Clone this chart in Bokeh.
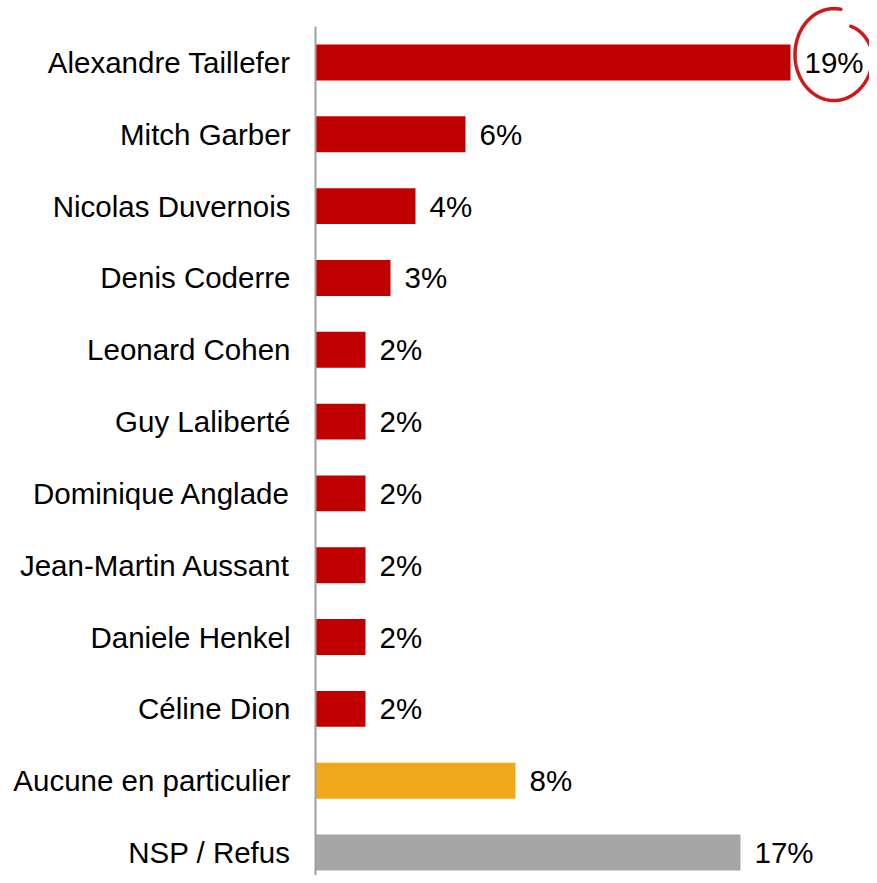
import numpy as np
from bokeh.plotting import figure
from bokeh.models import ColumnDataSource, Range1d, FixedTicker
from bokeh.core.properties import value
from bokeh.embed import file_html
from bokeh.resources import INLINE

names = ["Alexandre Taillefer", "Mitch Garber", "Nicolas Duvernois", "Denis Coderre",
         "Leonard Cohen", "Guy Laliberté", "Dominique Anglade", "Jean-Martin Aussant",
         "Daniele Henkel", "Céline Dion", "Aucune en particulier", "NSP / Refus"]
values = [19, 6, 4, 3, 2, 2, 2, 2, 2, 2, 8, 17]
colors = ["#C00000"] * 10 + ["#F0A91B", "#A6A6A6"]
labels = [f"{v}%" for v in values]

n = len(names)
ypos = [n - 1 - i for i in range(n)]

src = ColumnDataSource(dict(y=ypos, v=values, c=colors, lab=labels, name=names))

FONT = "Liberation Sans"

p = figure(width=869, height=875, output_backend="svg", toolbar_location=None,
           x_range=Range1d(0, 22.16), y_range=Range1d(-0.32, n - 1 + 0.863),
           min_border_left=315, min_border_top=0, min_border_bottom=0, min_border_right=0)
p.outline_line_color = None
p.xgrid.visible = False
p.ygrid.visible = False
p.xaxis.visible = False

p.hbar(y="y", right="v", left=0, height=0.5, color="c", line_color=None, source=src)

ax = p.yaxis[0]
ax.ticker = FixedTicker(ticks=ypos)
ax.bounds = (-0.32, n - 0.5)
ax.major_label_overrides = {y: nm for y, nm in zip(ypos, names)}
ax.major_tick_line_color = None
ax.minor_tick_line_color = None
ax.major_tick_out = 0
ax.major_tick_in = 0
ax.major_label_standoff = 25
ax.major_label_text_font = FONT
ax.major_label_text_font_size = "29.5px"
ax.major_label_text_color = "#000000"
ax.axis_line_color = "#A0A0A0"
ax.axis_line_width = 2

p.text(x="v", y="y", text="lab", source=src, x_offset=14, text_baseline="middle",
       text_align="left", text_font=value(FONT), text_font_size="29.5px", text_color="#000000")

# hand-drawn style ellipse around the largest value (built around that bar's end)
top_i = values.index(max(values))
cx = values[top_i] + 1.74
cy = ypos[top_i] + 0.11
rx, ry = 1.56, 0.64
t = np.radians(np.linspace(80, 415, 200))
r = 1 - 0.25 * np.clip((np.degrees(t) - 360) / 55, 0, 1)
p.line(x=cx + rx * r * np.cos(t), y=cy + ry * r * np.sin(t),
       line_color="#D01818", line_width=3.5, line_cap="round")

open("out.html", "w").write(file_html(p, INLINE))
